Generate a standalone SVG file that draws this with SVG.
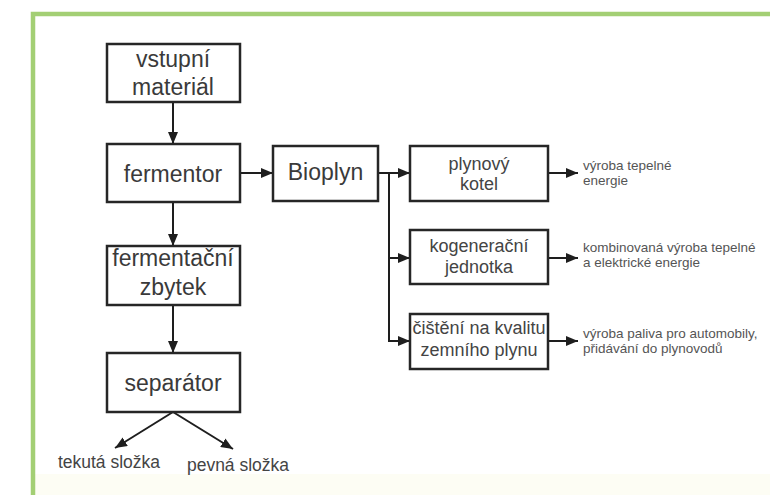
<svg xmlns="http://www.w3.org/2000/svg" width="770" height="495" viewBox="0 0 770 495">
<defs>
<marker id="ah" viewBox="0 0 12 10" refX="12" refY="5" markerWidth="12" markerHeight="10" markerUnits="userSpaceOnUse" orient="auto">
<path d="M0,0 L12,5 L0,10 Z" fill="#1e1e1e"/>
</marker>
<style>
.box{fill:#fff;stroke:#262626;stroke-width:2.5}
.big{font-family:"Liberation Sans",Arial,sans-serif;font-size:23px;fill:#3a3a3a;text-anchor:middle}
.mid{font-family:"Liberation Sans",Arial,sans-serif;font-size:18px;fill:#444;text-anchor:middle}
.sm{font-family:"Liberation Sans",Arial,sans-serif;font-size:13.5px;fill:#555}
.out{font-family:"Liberation Sans",Arial,sans-serif;font-size:17.5px;fill:#444;text-anchor:middle}
.ln{fill:none;stroke:#1e1e1e;stroke-width:2}
</style>
</defs>
<rect width="770" height="495" fill="#fff"/>
<rect x="35" y="474" width="735" height="21" fill="#fdfdf4"/>
<g id="frame">
<path d="M33,495 V14 H770" fill="none" stroke="#a3cf74" stroke-width="4.5"/>
</g>
<g id="connectors">
<line class="ln" x1="173" y1="102" x2="173" y2="144" marker-end="url(#ah)"/>
<line class="ln" x1="173" y1="202" x2="173" y2="246" marker-end="url(#ah)"/>
<line class="ln" x1="173" y1="305" x2="173" y2="353" marker-end="url(#ah)"/>
<line class="ln" x1="173" y1="412" x2="115" y2="448" marker-end="url(#ah)"/>
<line class="ln" x1="173" y1="412" x2="233" y2="449" marker-end="url(#ah)"/>
<line class="ln" x1="240" y1="173" x2="273" y2="173" marker-end="url(#ah)"/>
<line class="ln" x1="378" y1="173" x2="410" y2="173" marker-end="url(#ah)"/>
<path class="ln" d="M389,173 V341 H410" marker-end="url(#ah)"/>
<line class="ln" x1="389" y1="258" x2="410" y2="258" marker-end="url(#ah)"/>
<line class="ln" x1="548" y1="173" x2="578" y2="173" marker-end="url(#ah)"/>
<line class="ln" x1="548" y1="258" x2="578" y2="258" marker-end="url(#ah)"/>
<line class="ln" x1="548" y1="341" x2="578" y2="341" marker-end="url(#ah)"/>
</g>
<g id="vstupni">
<rect class="box" x="107" y="44" width="133" height="58"/>
<text class="big" x="173" y="67">vstupní</text>
<text class="big" x="173" y="95">materiál</text>
</g>
<g id="fermentor">
<rect class="box" x="107" y="144" width="133" height="58"/>
<text class="big" x="173" y="182">fermentor</text>
</g>
<g id="zbytek">
<rect class="box" x="107" y="246" width="133" height="59"/>
<text class="big" x="173" y="266">fermentační</text>
<text class="big" x="173" y="295">zbytek</text>
</g>
<g id="separator">
<rect class="box" x="107" y="353" width="133" height="59"/>
<text class="big" x="173" y="391">separátor</text>
</g>
<g id="bioplyn">
<rect class="box" x="273" y="146" width="105" height="55"/>
<text class="big" x="325.5" y="180">Bioplyn</text>
</g>
<g id="kotel">
<rect class="box" x="410" y="146" width="138" height="55"/>
<text class="mid" x="479" y="170">plynový</text>
<text class="mid" x="479" y="190">kotel</text>
</g>
<g id="kogenerace">
<rect class="box" x="410" y="230" width="138" height="54"/>
<text class="mid" x="479" y="252">kogenerační</text>
<text class="mid" x="479" y="273">jednotka</text>
</g>
<g id="cisteni">
<rect class="box" x="410" y="314" width="138" height="55"/>
<text class="mid" x="479" y="334">čištění na kvalitu</text>
<text class="mid" x="479" y="356">zemního plynu</text>
</g>
<g id="out-kotel">
<text class="sm" x="583" y="170">výroba tepelné</text>
<text class="sm" x="583" y="185">energie</text>
</g>
<g id="out-kogenerace">
<text class="sm" x="583" y="252">kombinovaná výroba tepelné</text>
<text class="sm" x="583" y="267">a elektrické energie</text>
</g>
<g id="out-cisteni">
<text class="sm" x="583" y="338">výroba paliva pro automobily,</text>
<text class="sm" x="583" y="353">přidávání do plynovodů</text>
</g>
<g id="tekuta">
<text class="out" x="109" y="468">tekutá složka</text>
</g>
<g id="pevna">
<text class="out" x="238" y="471">pevná složka</text>
</g>
</svg>
